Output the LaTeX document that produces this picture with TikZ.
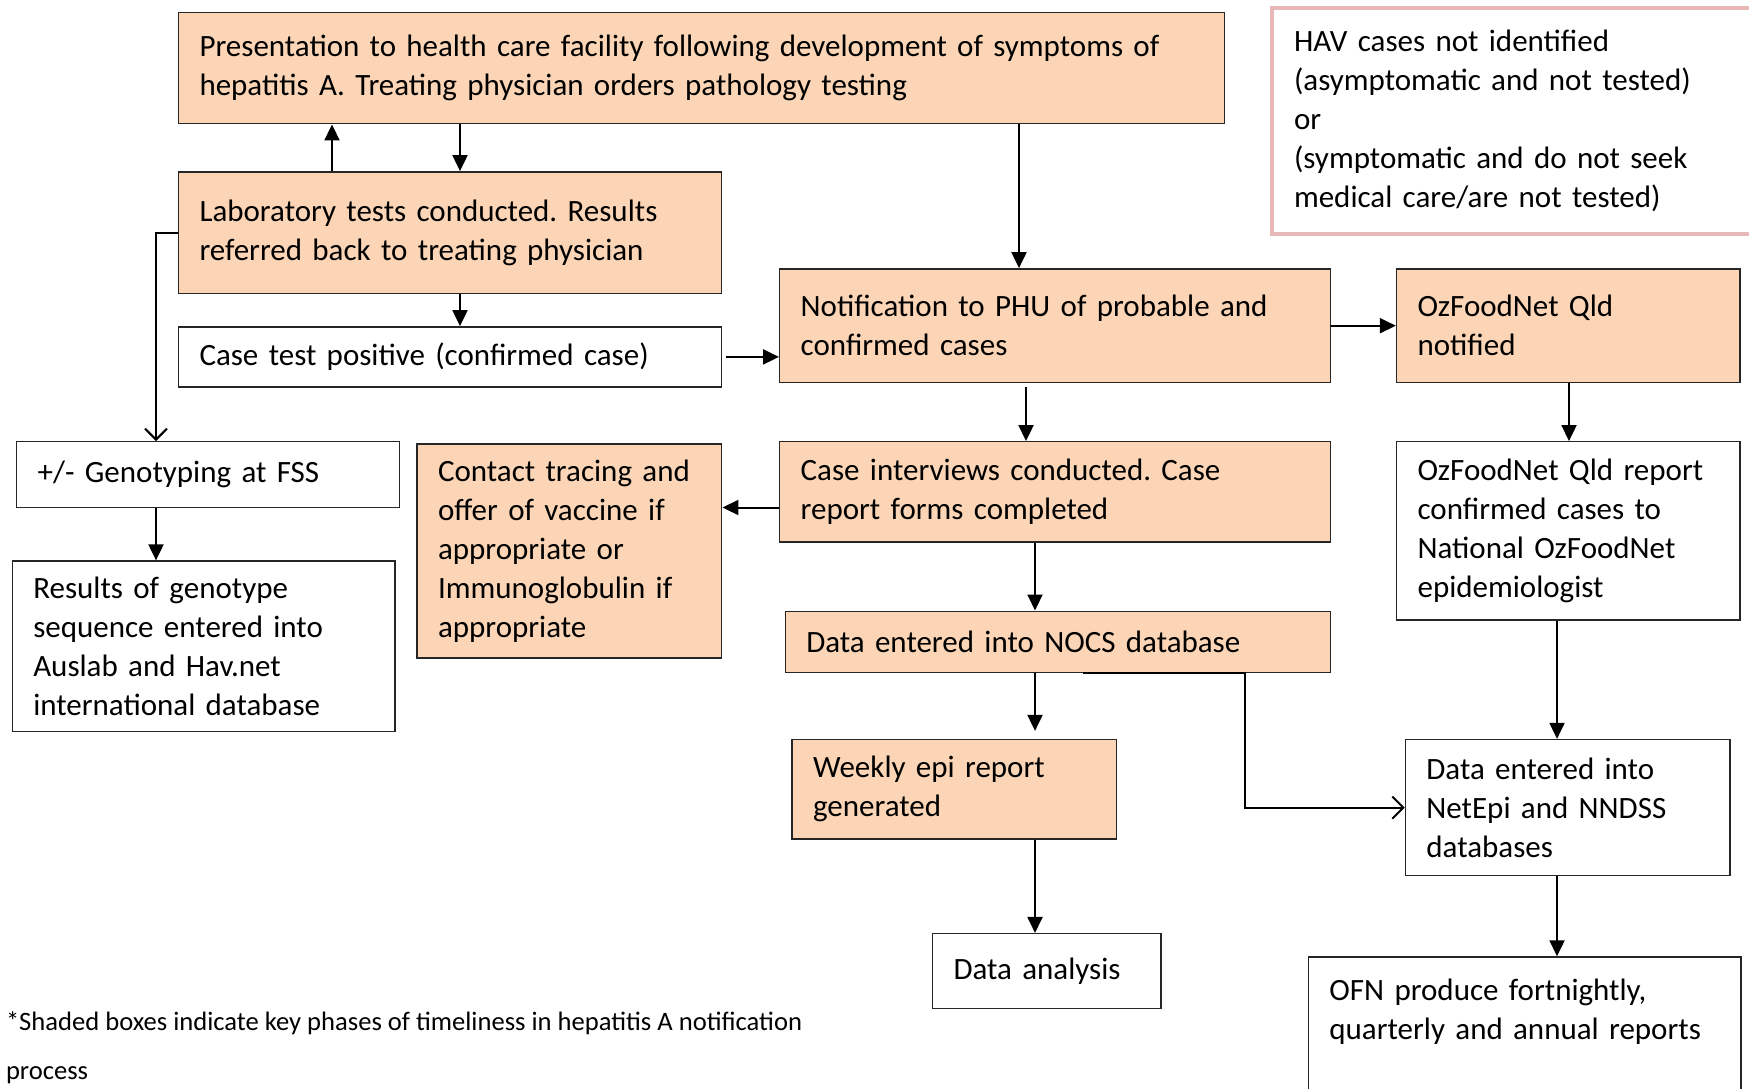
\documentclass[tikz,border=0pt]{standalone}
\usepackage{fontspec}
\setmainfont{Carlito}
\frenchspacing
\usetikzlibrary{arrows.meta}
\definecolor{peach}{RGB}{251,213,181}
\definecolor{pinkline}{RGB}{230,184,183}
\tikzset{
  box/.style={draw=black!85,line width=0.7pt,align=left,inner xsep=10.5pt,inner ysep=0pt,font=\fontsize{15.5}{19.5}\selectfont},
  shadedbox/.style={box,fill=peach},
  plainbox/.style={box,fill=white},
  arr/.style={line width=1pt,-{Triangle[length=8pt,width=7.5pt]}},
  openarr/.style={line width=1pt,-{Straight Barb[length=5.5pt,width=11pt]}}
}
\begin{document}
\begin{tikzpicture}[x=0.5pt,y=-0.5pt]
\path[use as bounding box,fill=white](0,0)rectangle(1749,1088);
\node[shadedbox,minimum width=523.1pt,text width=502.1pt,minimum height=55.75pt](pres)at(701.6,68){Presentation to health care facility following development of symptoms of\\hepatitis A. Treating physician orders pathology testing};
\node[shadedbox,minimum width=271.6pt,text width=250.6pt,minimum height=60.8pt](lab)at(450.1,232.6){Laboratory tests conducted. Results\\referred back to treating physician};
\node[plainbox,minimum width=271.6pt,text width=250.6pt,minimum height=30.1pt](pos)at(450.1,356.9){Case test positive (confirmed case)};
\node[plainbox,minimum width=191.3pt,text width=170.3pt,minimum height=32.9pt](geno)at(208,474.6){+/- Genotyping at FSS};
\node[plainbox,minimum width=191.3pt,text width=170.3pt,minimum height=85.35pt](res)at(203.6,646.4){Results of genotype\\sequence entered into\\Auslab and Hav.net\\international database};
\node[shadedbox,minimum width=152.35pt,text width=131.35pt,minimum height=107pt](contact)at(569.4,551){Contact tracing and\\offer of vaccine if\\appropriate or\\Immunoglobulin if\\appropriate};
\node[shadedbox,minimum width=275.5pt,text width=254.5pt,minimum height=56.9pt](notif)at(1055.2,325.7){Notification to PHU of probable and\\confirmed cases};
\node[shadedbox,minimum width=171.75pt,text width=150.75pt,minimum height=56.9pt](ofnnot)at(1568.3,325.7){OzFoodNet Qld\\notified};
\node[plainbox,draw=pinkline,line width=1.75pt,inner xsep=11pt,minimum width=246.5pt,text width=224.5pt,minimum height=113pt](hav)at(1518.5,121){HAV cases not identified\\(asymptomatic and not tested)\\or\\(symptomatic and do not seek\\medical care/are not tested)};
\node[shadedbox,minimum width=275.5pt,text width=254.5pt,minimum height=50.15pt](interv)at(1055.2,491.9){Case interviews conducted. Case\\report forms completed};
\node[shadedbox,minimum width=272.75pt,text width=251.75pt,minimum height=30.7pt](nocs)at(1058,641.9){Data entered into NOCS database};
\node[shadedbox,minimum width=162.25pt,text width=141.25pt,minimum height=49.65pt](weekly)at(954.3,789.2){Weekly epi report\\generated};
\node[plainbox,minimum width=114.25pt,text width=93.25pt,minimum height=37.35pt](anal)at(1046.8,971){Data analysis};
\node[plainbox,minimum width=171.75pt,text width=150.75pt,minimum height=89.15pt](ofnrep)at(1568.3,530.9){OzFoodNet Qld report\\confirmed cases to\\National OzFoodNet\\epidemiologist};
\node[plainbox,minimum width=162.3pt,text width=141.3pt,minimum height=68.05pt](netepi)at(1567.7,807.6){Data entered into\\NetEpi and NNDSS\\databases};
\node[plainbox,minimum width=216.3pt,text width=195.3pt,minimum height=71.5pt](ofn)at(1524.7,1028.5){OFN produce fortnightly,\\quarterly and annual reports\\~};
\node[anchor=west,align=left,inner sep=0pt,font=\fontsize{13.3}{24.5}\selectfont](note)at(5.6,1047.5){*Shaded boxes indicate key phases of timeliness in hepatitis A notification\\process};
\coordinate(cA)at(332,0);
\coordinate(cB)at(460,0);
\coordinate(cC)at(156,0);
\coordinate(cD)at(1019,0);
\coordinate(cE)at(1026,0);
\coordinate(cF)at(0,507.5);
\coordinate(cG)at(1035,0);
\coordinate(cH)at(1083,0);
\coordinate(cI)at(1245,0);
\coordinate(cJ)at(1569,0);
\coordinate(cK)at(1557,0);
\draw[arr](lab.north-|cA)--(pres.south-|cA);
\draw[arr](pres.south-|cB)--(lab.north-|cB);
\draw[arr](lab.south-|cB)--(pos.north-|cB);
\draw[openarr](lab.west)-|(geno.north-|cC);
\draw[arr](geno.south-|cC)--(res.north-|cC);
\draw[arr,shorten <=2pt](pos.east)--(pos.east-|notif.west);
\draw[arr](pres.south-|cD)--(notif.north-|cD);
\draw[arr](notif.east)--(ofnnot.west);
\draw[arr,shorten <=2pt](notif.south-|cE)--(interv.north-|cE);
\draw[arr](interv.west|-cF)--(contact.east|-cF);
\draw[arr](interv.south-|cG)--(nocs.north-|cG);
\draw[arr,shorten >=4pt](nocs.south-|cG)--(weekly.north-|cG);
\draw[arr](weekly.south-|cG)--(anal.north-|cG);
\draw[openarr](nocs.south-|cH)--(nocs.south-|cI)|-(netepi.west);
\draw[arr](ofnnot.south-|cJ)--(ofnrep.north-|cJ);
\draw[arr](ofnrep.south-|cK)--(netepi.north-|cK);
\draw[arr](netepi.south-|cK)--(ofn.north-|cK);
\end{tikzpicture}
\end{document}
